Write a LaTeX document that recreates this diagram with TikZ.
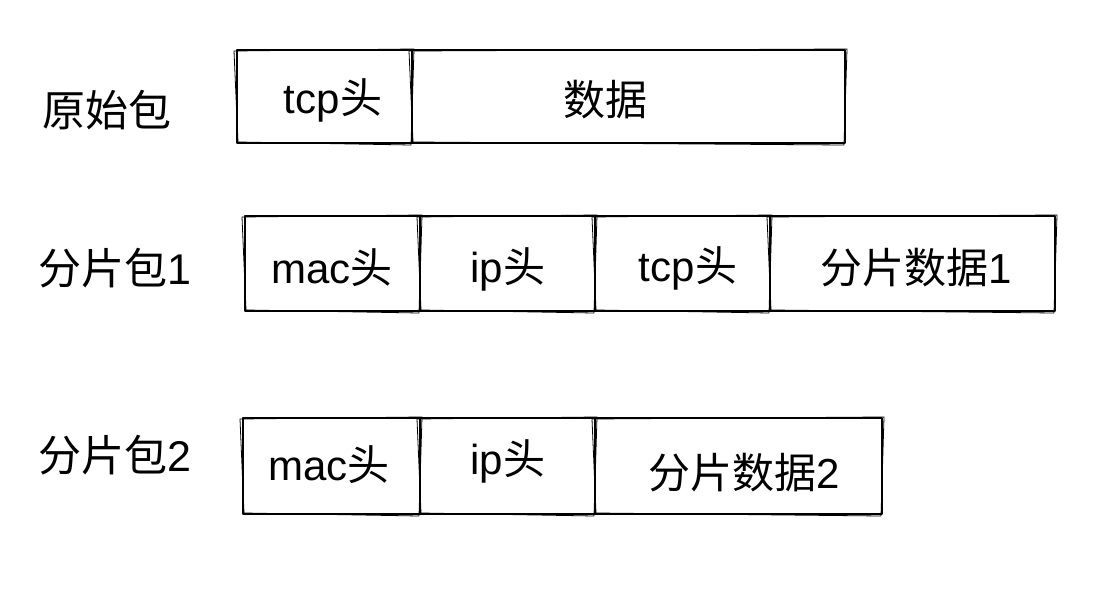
\documentclass[tikz,border=0pt]{standalone}
\usepackage{fontspec}
\setmainfont{Liberation Sans}
\newfontfamily\cjk{Noto Sans CJK SC}
\begin{document}
\begin{tikzpicture}[x=1pt,y=-1pt,
  box/.style={inner sep=0pt, outer sep=0pt},
  txt/.style={inner sep=0pt, font=\fontsize{42}{50}\selectfont},
  lbl/.style={inner sep=0pt, anchor=west, font=\fontsize{43}{50}\selectfont},
  sk/.style={line width=1.4pt, line join=round},
  skb/.style={line width=0.8pt, line join=round}]
\useasboundingbox[fill=white] (0,0) rectangle (1114,594);
\newcommand{\skbox}[1]{%
  \draw[sk] (#1.north west) rectangle (#1.south east);
  \draw[skb] ([shift={(-3,1)}]#1.north west) -- ([shift={(2,-1)}]#1.north east)
    -- ([shift={(-1,2)}]#1.south east) -- ([shift={(1,-1)}]#1.south west) -- cycle;}
% labels
\node[lbl] (l1) at (42,110) {\cjk 原始包};
\node[lbl] (l2) at (38,268) {\cjk 分片包\normalfont 1};
\node[lbl] (l3) at (38,455) {\cjk 分片包\normalfont 2};
% row 1
\node[box, minimum width=175pt, minimum height=93pt] (a1) at (324.5,96.5) {};
\node[box, minimum width=433pt, minimum height=93pt] (a2) at (628.5,96.5) {};
\node[txt] (ta1) at (333,100) {tcp{\cjk 头}};
\node[txt] (ta2) at (605,100) {\cjk 数据};
% row 2
\node[box, minimum width=175pt, minimum height=95pt] (b1) at (332.5,263.5) {};
\node[box, minimum width=175pt, minimum height=95pt] (b2) at (507.5,263.5) {};
\node[box, minimum width=175pt, minimum height=95pt] (b3) at (682.5,263.5) {};
\node[box, minimum width=285pt, minimum height=95pt] (b4) at (912.5,263.5) {};
\node[txt] (tb1) at (332,268) {mac{\cjk 头}};
\node[txt] (tb2) at (508,269) {ip{\cjk 头}};
\node[txt] (tb3) at (688,268) {tcp{\cjk 头}};
\node[txt] (tb4) at (916,268) {{\cjk 分片数据}1};
% row 3
\node[box, minimum width=177pt, minimum height=96pt] (c1) at (331.5,466) {};
\node[box, minimum width=175pt, minimum height=96pt] (c2) at (507.5,466) {};
\node[box, minimum width=287pt, minimum height=96pt] (c3) at (738.5,466) {};
\node[txt] (tc1) at (329,465) {mac{\cjk 头}};
\node[txt] (tc2) at (508,461) {ip{\cjk 头}};
\node[txt] (tc3) at (744,473) {{\cjk 分片数据}2};
\skbox{a1}\skbox{a2}
\skbox{b1}\skbox{b2}\skbox{b3}\skbox{b4}
\skbox{c1}\skbox{c2}\skbox{c3}
\end{tikzpicture}
\end{document}
